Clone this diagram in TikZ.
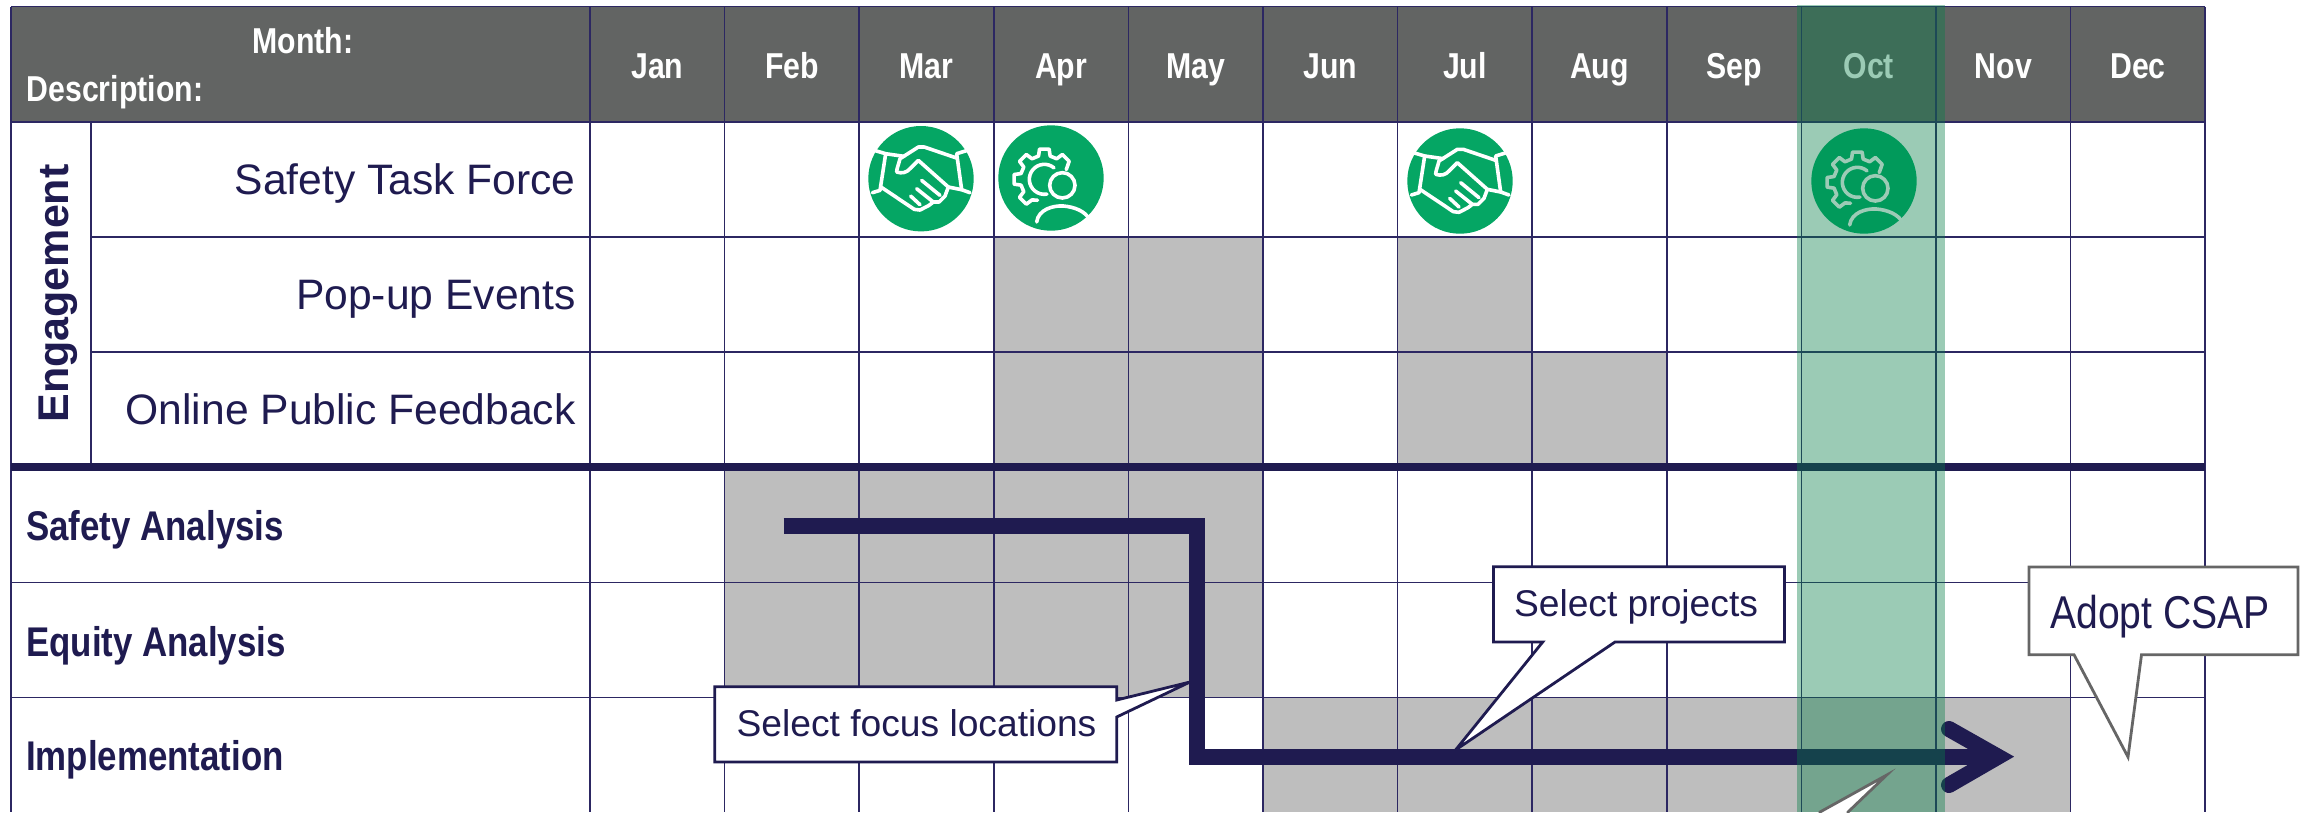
\documentclass[tikz,border=0pt]{standalone}
\usepackage{fontspec}
\setmainfont{Liberation Sans}
\newfontfamily\narrowsans{Liberation Sans}[FakeStretch=0.84]
\newfontfamily\adoptsans{Liberation Sans}[FakeStretch=0.85]
\newcommand{\pxfont}[1]{\fontsize{#1pt}{#1pt}\selectfont}
\definecolor{navy}{HTML}{1F1B50}
\definecolor{gridcol}{HTML}{2C2762}
\definecolor{headgray}{HTML}{626463}
\definecolor{cellgray}{HTML}{BEBEBE}
\definecolor{bandgreen}{HTML}{077D48}
\definecolor{icongreen}{HTML}{05A664}
\definecolor{icongreenb}{HTML}{019A5B}
\definecolor{bandpale}{HTML}{9CCBB6}
\definecolor{calloutgray}{HTML}{666666}
\tikzset{
  gridline/.style={draw=gridcol,line width=1.5pt},
  graycell/.style={fill=cellgray},
  calloutnavy/.style={draw=navy,fill=white,line width=2.8pt,line join=miter},
  calloutgrey/.style={draw=calloutgray,fill=white,line width=2.8pt,line join=miter},
  monthlabel/.style={anchor=base,inner sep=0pt,text=white,font=\narrowsans\bfseries\pxfont{36}},
  rowlabel/.style={anchor=base east,inner sep=0pt,text=navy,font=\pxfont{42.6}},
  boldlabel/.style={anchor=base west,inner sep=0pt,text=navy,font=\narrowsans\bfseries\pxfont{41.5}},
  callouttext/.style={anchor=base,inner sep=0pt,text=navy,font=\pxfont{37.2}},
  flowline/.style={draw=navy,line width=16pt,line join=miter},
  pics/handshake/.style={code={
    \begin{scope}[x=.3333pt,y=-.3333pt,shift={(-168,-170)},draw=#1,line width=3.6pt,line cap=round,line join=round]
      \draw (28,85) -- (62,95) -- (45,205) -- (22,212);
      \draw (307,85) -- (275,95) -- (290,203) -- (315,212);
      \draw (62,95) -- (118,103);
      \draw (275,108) -- (178,75) -- (160,75) -- (105,110) .. controls (100,130) and (95,140) .. (95,150)
            .. controls (110,155) and (125,152) .. (135,140) -- (160,115) -- (250,195) -- (290,203);
      \draw (48,195) -- (148,262) -- (165,264) -- (192,250) -- (205,240) -- (222,240) -- (240,222) -- (250,195);
      \draw (170,175) -- (225,220);
      \draw (155,200) -- (205,240);
      \draw (137,222) -- (165,248);
    \end{scope}}},
  pics/gearhead/.style={code={
    \begin{scope}[x=.3333pt,y=-.3333pt,shift={(-168,-168)},draw=#1,line width=3.6pt,line cap=round,line join=round]
      \begin{scope}[shift={(148,172)}]
        \draw (-24:72) -- (-36:92) -- (-54:92) -- (-59:72)
              -- (-76:72) -- (-81:92) -- (-99:92) -- (-104:72)
              -- (-121:72) -- (-126:92) -- (-144:92) -- (-149:72)
              -- (-166:72) -- (-171:92) -- (-189:92) -- (-194:72)
              -- (-211:72) -- (-216:92) -- (-234:92) -- (-239:72) -- (-252:66);
        \draw (-50:45) arc[start angle=-50,end angle=-280,radius=45];
      \end{scope}
      \draw (202,190) circle[radius=38];
      \draw (125,300) .. controls (130,262) and (175,250) .. (205,252) .. controls (240,255) and (270,268) .. (284,292);
    \end{scope}}}
}
\begin{document}
\begin{tikzpicture}[x=1pt,y=-1pt]
\path[use as bounding box,clip] (0,0) rectangle (2308,812);
\fill[white] (0,0) rectangle (2308,812);
% header and shaded cells
\fill[headgray] (11,6.7) rectangle (2205.2,122);
\fill[graycell] (993.8,237) rectangle (1263,463);
\fill[graycell] (1397.6,237) rectangle (1532.2,463);
\fill[graycell] (1532.2,352) rectangle (1666.8,463);
\fill[graycell] (724.6,471) rectangle (1263,697.7);
\fill[graycell] (1263,697.7) rectangle (2070.6,812);
% grid
\foreach \i in {0,...,12} {
  \pgfmathsetmacro{\xx}{590+134.6*\i}
  \draw[gridline] (\xx,6.7) -- (\xx,812);
}
\draw[gridline] (11,6.7) -- (11,812);
\draw[gridline] (91,122) -- (91,471);
\draw[gridline] (11,6.7) -- (2205.2,6.7);
\draw[gridline] (11,122) -- (2205.2,122);
\draw[gridline] (91,237) -- (2205.2,237);
\draw[gridline] (91,352) -- (2205.2,352);
\draw[gridline] (11,582.7) -- (2205.2,582.7);
\draw[gridline] (11,697.7) -- (2205.2,697.7);
\draw[draw=navy,line width=8pt] (11,467) -- (2205.2,467);
% header text
\node[monthlabel,anchor=base west] (hmonth) at (252.5,53) {Month:};
\node[monthlabel,anchor=base west] (hdesc) at (26.5,101) {Description:};
\foreach \m [count=\i from 0] in {Jan,Feb,Mar,Apr,May,Jun,Jul,Aug,Sep,Oct,Nov,Dec} {
  \pgfmathsetmacro{\xx}{590+134.6*(\i+.5)}
  \node[monthlabel] (m\m) at (\xx,78) {\m};
}
% row text
\node[rowlabel] (rtask) at (575.8,194) {Safety Task Force};
\node[rowlabel] (rpop) at (575.8,309.3) {Pop-up Events};
\node[rowlabel] (ronline) at (575.8,424) {Online Public Feedback};
\node[anchor=base,inner sep=0pt,text=navy,font=\bfseries\pxfont{43},rotate=90] (engage) at (68,293.5) {Engagement};
\node[boldlabel] (rsafety) at (26,540.7) {Safety Analysis};
\node[boldlabel] (requity) at (26,656) {Equity Analysis};
\node[boldlabel] (rimpl) at (26,770.7) {Implementation};
% callouts
\draw[calloutnavy] (714.7,686.7) -- (1116.7,686.7) -- (1116.7,700) -- (1190,682) -- (1116.7,717) -- (1116.7,762) -- (714.7,762) -- cycle;
\node[callouttext] (cfocus) at (916.5,736.7) {Select focus locations};
\draw[calloutnavy] (1493.5,566.7) -- (1784.5,566.7) -- (1784.5,642) -- (1615,642) -- (1455.5,750) -- (1542.7,642) -- (1493.5,642) -- cycle;
\node[callouttext] (cproj) at (1636,616.7) {Select projects};
\draw[calloutgrey] (2029,567) -- (2298,567) -- (2298,654.7) -- (2141.5,654.7) -- (2128,757) -- (2074,654.7) -- (2029,654.7) -- cycle;
\node[anchor=base,inner sep=0pt,text=navy,font=\adoptsans\pxfont{46}] (cadopt) at (2160,628) {Adopt CSAP};
% flow arrow
\coordinate (fstart) at (783.6,526);
\coordinate (fcorner) at (1197,526);
\coordinate (fdown) at (1197,756.7);
\coordinate (ftip) at (1998,756.7);
\coordinate (fwingA) at (1949,729);
\coordinate (fwingB) at (1949,785);
\draw[flowline] (fstart) -- (fcorner) -- (fdown) -- (ftip);
\draw[flowline,line cap=round] (fwingA) -- (ftip) -- (fwingB);
% October band
\fill[bandgreen,opacity=.4] (1797,5) rectangle (1945,812);
% icons
\fill[icongreen] (921,178.7) circle[radius=52.7];
\pic at (921,178.7) {handshake=white};
\fill[icongreen] (1051,178) circle[radius=52.7];
\pic at (1051,178) {gearhead=white};
\fill[icongreen] (1460,181) circle[radius=52.7];
\pic at (1460,181) {handshake=white};
\fill[icongreenb] (1864,181) circle[radius=52.7];
\pic at (1864,181) {gearhead=bandpale};
% callout tail running off the bottom edge
\draw[calloutgrey] (1820,812) -- (1886.7,775) -- (1848,812) -- (1848,830) -- (1820,830) -- cycle;
\end{tikzpicture}
\end{document}
